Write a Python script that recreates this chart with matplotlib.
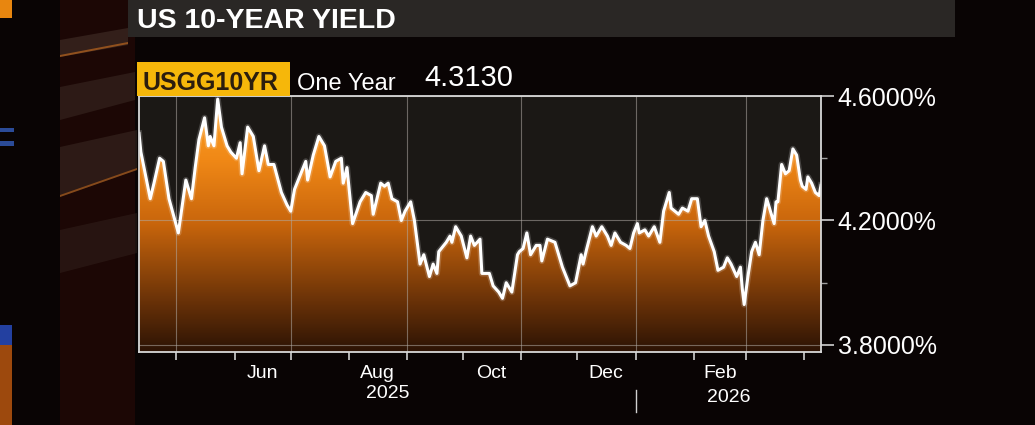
import matplotlib.pyplot as plt
import matplotlib.dates as mdates
import matplotlib.transforms as mtransforms
import numpy as np
import pandas as pd
from matplotlib.colors import LinearSegmentedColormap
from matplotlib.patches import Polygon

# USGG10YR, one year of closes
dates = [
    "2025-04-11", "2025-04-12", "2025-04-17", "2025-04-19", "2025-04-22",
    "2025-04-24", "2025-04-27", "2025-05-02", "2025-05-06", "2025-05-09",
    "2025-05-11", "2025-05-13", "2025-05-16", "2025-05-18", "2025-05-19",
    "2025-05-21", "2025-05-23", "2025-05-25", "2025-05-28", "2025-05-30",
    "2025-06-02", "2025-06-04", "2025-06-05", "2025-06-08", "2025-06-11",
    "2025-06-14", "2025-06-17", "2025-06-19", "2025-06-22", "2025-06-26",
    "2025-06-29", "2025-07-01", "2025-07-03", "2025-07-07", "2025-07-09",
    "2025-07-10", "2025-07-13", "2025-07-16", "2025-07-19", "2025-07-22",
    "2025-07-25", "2025-07-28", "2025-07-29", "2025-07-31", "2025-08-03",
    "2025-08-07", "2025-08-10", "2025-08-13", "2025-08-14", "2025-08-18",
    "2025-08-20", "2025-08-22", "2025-08-24", "2025-08-27", "2025-08-29",
    "2025-08-31", "2025-09-03", "2025-09-05", "2025-09-08", "2025-09-10",
    "2025-09-13", "2025-09-15", "2025-09-17", "2025-09-18", "2025-09-22",
    "2025-09-24", "2025-09-25", "2025-09-27", "2025-09-30", "2025-10-03",
    "2025-10-05", "2025-10-07", "2025-10-10", "2025-10-11", "2025-10-15",
    "2025-10-17", "2025-10-20", "2025-10-22", "2025-10-24", "2025-10-27",
    "2025-10-30", "2025-10-31", "2025-11-02", "2025-11-04", "2025-11-06",
    "2025-11-09", "2025-11-11", "2025-11-12", "2025-11-15", "2025-11-19",
    "2025-11-23", "2025-11-27", "2025-11-30", "2025-12-03", "2025-12-04",
    "2025-12-06", "2025-12-09", "2025-12-11", "2025-12-14", "2025-12-17",
    "2025-12-19", "2025-12-21", "2025-12-24", "2025-12-27", "2025-12-29",
    "2025-12-31", "2026-01-02", "2026-01-03", "2026-01-06", "2026-01-08",
    "2026-01-11", "2026-01-14", "2026-01-16", "2026-01-19", "2026-01-20",
    "2026-01-24", "2026-01-26", "2026-01-29", "2026-01-31", "2026-02-03",
    "2026-02-05", "2026-02-07", "2026-02-09", "2026-02-12", "2026-02-14",
    "2026-02-17", "2026-02-19", "2026-02-21", "2026-02-24", "2026-02-26",
    "2026-02-27", "2026-02-28", "2026-03-02", "2026-03-04", "2026-03-06",
    "2026-03-08", "2026-03-10", "2026-03-12", "2026-03-14", "2026-03-16",
    "2026-03-17", "2026-03-18", "2026-03-20", "2026-03-22", "2026-03-24",
    "2026-03-26", "2026-03-28", "2026-03-30", "2026-03-31", "2026-04-02",
    "2026-04-03", "2026-04-05", "2026-04-07", "2026-04-09", "2026-04-10",
]
yields = [
    4.48, 4.42, 4.27, 4.32, 4.40, 4.39, 4.27, 4.16, 4.33, 4.27,
    4.37, 4.46, 4.53, 4.44, 4.47, 4.44, 4.59, 4.50, 4.44, 4.42,
    4.40, 4.45, 4.35, 4.50, 4.47, 4.36, 4.44, 4.38, 4.38, 4.29,
    4.25, 4.23, 4.30, 4.36, 4.39, 4.33, 4.41, 4.47, 4.44, 4.34,
    4.39, 4.40, 4.32, 4.37, 4.19, 4.26, 4.29, 4.28, 4.22, 4.32,
    4.31, 4.32, 4.27, 4.26, 4.20, 4.23, 4.26, 4.20, 4.06, 4.09,
    4.02, 4.06, 4.03, 4.10, 4.13, 4.15, 4.13, 4.18, 4.15, 4.08,
    4.15, 4.12, 4.14, 4.03, 4.03, 3.99, 3.97, 3.95, 4.00, 3.97,
    4.09, 4.10, 4.11, 4.16, 4.09, 4.12, 4.12, 4.07, 4.14, 4.13,
    4.05, 3.99, 4.00, 4.09, 4.06, 4.11, 4.18, 4.15, 4.18, 4.15,
    4.12, 4.16, 4.13, 4.12, 4.11, 4.16, 4.19, 4.16, 4.17, 4.15,
    4.18, 4.13, 4.23, 4.29, 4.24, 4.22, 4.24, 4.23, 4.27, 4.27,
    4.18, 4.20, 4.15, 4.10, 4.04, 4.05, 4.08, 4.06, 4.02, 4.05,
    3.98, 3.93, 4.02, 4.10, 4.13, 4.09, 4.20, 4.27, 4.23, 4.19,
    4.26, 4.26, 4.38, 4.35, 4.36, 4.43, 4.41, 4.33, 4.31, 4.30,
    4.34, 4.32, 4.29, 4.28, 4.313,
]

title = "US 10-YEAR YIELD"
ticker = "USGG10YR"
period = "One Year"
last_value = "4.3130"
y_ticks = [3.8, 4.2, 4.6]
y_minor = [4.0, 4.4]
month_labels = ["Jun", "Aug", "Oct", "Dec", "Feb"]
month_label_dates = ["2025-06-16", "2025-08-16", "2025-10-16",
                     "2025-12-16", "2026-02-15"]
year_labels = ["2025", "2026"]
year_break = "2026-01-01"

W, H = 1035, 425


def fx(px):
    return px / W


def fy(py):
    return 1 - py / H


def backdrop(pts, color, z=0, alpha=1.0):
    # polygon given in screen pixels (origin top left)
    fig.patches.append(Polygon([(fx(a), fy(b)) for a, b in pts],
                               closed=True, transform=fig.transFigure,
                               facecolor=color, edgecolor="none",
                               alpha=alpha, zorder=z))


plt.rcParams["font.family"] = ["Liberation Sans", "DejaVu Sans"]
fig = plt.figure(figsize=(W / 100, H / 100), dpi=100, facecolor="#090404")

# studio backdrop on the left
backdrop([(60, 0), (135, 0), (135, 425), (60, 425)], "#1c0705")
backdrop([(60, 40), (128, 28), (128, 45), (60, 57)], "#4a3830", alpha=0.5)
backdrop([(60, 87), (135, 72), (135, 100), (60, 120)], "#3e2e27", alpha=0.5)
backdrop([(60, 147), (137, 130), (137, 170), (60, 197)], "#3e2e27",
         alpha=0.5)
backdrop([(60, 230), (137, 213), (137, 253), (60, 273)], "#3a2a24",
         alpha=0.4)
backdrop([(60, 55), (128, 42), (128, 44), (60, 57)], "#e07a20", z=1,
         alpha=0.55)
backdrop([(60, 195), (137, 168), (137, 170), (60, 197)], "#e07a20", z=1,
         alpha=0.5)
backdrop([(0, 0), (12, 0), (12, 18), (0, 18)], "#e8860f")
backdrop([(0, 128), (14, 128), (14, 132), (0, 132)], "#3a6ad8", alpha=0.7)
backdrop([(0, 141), (14, 141), (14, 146), (0, 146)], "#3a6ad8", alpha=0.7)
backdrop([(0, 325), (12, 325), (12, 345), (0, 345)], "#2a50c8", alpha=0.8)
backdrop([(0, 345), (12, 345), (12, 425), (0, 425)], "#b8560f", alpha=0.85)

# title band
backdrop([(128, 0), (955, 0), (955, 37), (128, 37)], "#2a2725", z=1)
fig.text(fx(137), fy(28), title, color="white", fontsize=20.5,
         fontweight="bold", va="baseline")

# header row
backdrop([(137, 62), (290, 62), (290, 96), (137, 96)], "#f6b70a", z=2)
fig.text(fx(143), fy(90), ticker, color="#2b1d0e", fontsize=18,
         fontweight="bold", va="baseline", zorder=3)
fig.text(fx(297), fy(90), period, color="white", fontsize=17,
         va="baseline")
fig.text(fx(424), fy(86), last_value, color="white", fontsize=21,
         va="baseline")

ax = fig.add_axes([fx(139), fy(352), fx(821 - 139), (352 - 96) / H])
ax.set_facecolor("#1b1815")

x = mdates.date2num(pd.to_datetime(dates))
ymin, ymax = 3.7775, 4.6

# orange gradient under the line
cmap = LinearSegmentedColormap.from_list(
    "bbg", [(0.0, "#2c1304"), (0.2, "#6a3208"), (0.5, "#c8650c"),
            (0.75, "#f08816"), (1.0, "#ffa428")])
grad = np.linspace(0, 1, 256).reshape(-1, 1)
img = ax.imshow(grad, extent=[x[0], x[-1], ymin, ymax], origin="lower",
                aspect="auto", cmap=cmap, zorder=1)
fill = ax.fill_between(x, yields, ymin, facecolor="none", edgecolor="none")
img.set_clip_path(fill.get_paths()[0], transform=ax.transData)

# grid
grid_months = pd.date_range("2025-05-01", "2026-04-01", freq="2MS")
for d in mdates.date2num(grid_months):
    ax.axvline(d, color="#b0aaa4", lw=0.8, alpha=0.55, zorder=2)
for v in y_ticks:
    ax.axhline(v, color="#b0aaa4", lw=0.8, alpha=0.55, zorder=2)

ax.plot(x, yields, color="white", lw=4.5, alpha=0.18, zorder=3)
ax.plot(x, yields, color="white", lw=2.2, zorder=4)

ax.set_xlim(x[0], x[-1])
ax.set_ylim(ymin, ymax)

# right axis
ax.yaxis.tick_right()
ax.set_yticks(y_ticks)
ax.set_yticklabels([f"{v:.4f}%" for v in y_ticks])
ax.set_yticks(y_minor, minor=True)
ax.tick_params(axis="y", which="major", length=9, width=1.2,
               color="#d0d0d0", labelcolor="white", labelsize=18, pad=3)
ax.tick_params(axis="y", which="minor", length=4, width=1, color="#a0a0a0")

# bottom axis: month ticks, labels in the middle of the month
month_starts = pd.date_range("2025-05-01", "2026-04-01", freq="MS")
ax.set_xticks(mdates.date2num(month_starts))
ax.set_xticklabels([""] * len(month_starts))
ax.set_xticks(mdates.date2num(pd.to_datetime(month_label_dates)),
              minor=True)
ax.set_xticklabels(month_labels, minor=True)
ax.tick_params(axis="x", which="major", length=6, width=1.2,
               color="#d0d0d0")
ax.tick_params(axis="x", which="minor", length=0, labelsize=14,
               labelcolor="white", pad=9)

trans = mtransforms.blended_transform_factory(ax.transData, ax.transAxes)
yb = mdates.date2num(pd.Timestamp(year_break))
ax.text((x[0] + yb) / 2, -0.13, year_labels[0], transform=trans,
        ha="center", va="top", color="white", fontsize=14)
ax.text((yb + x[-1]) / 2, -0.145, year_labels[1], transform=trans,
        ha="center", va="top", color="white", fontsize=14)
ax.plot([yb, yb], [-0.148, -0.235], transform=trans, clip_on=False,
        color="#d0d0d0", lw=1)

for s in ax.spines.values():
    s.set_color("#d8d8d8")
    s.set_linewidth(1.3)
    s.set_zorder(5)

fig.savefig("out.png", dpi=100, facecolor=fig.get_facecolor())
